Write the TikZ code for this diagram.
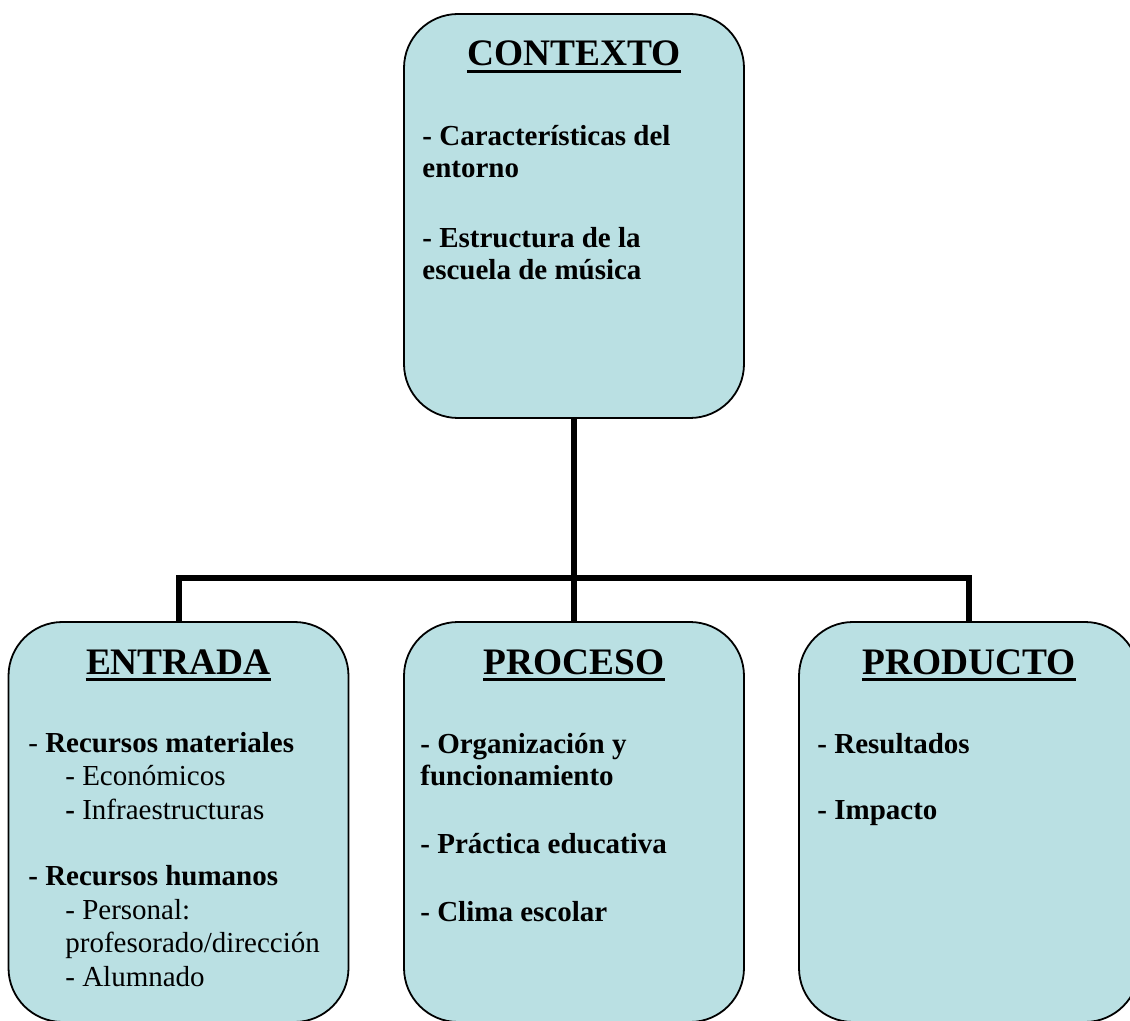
\documentclass[tikz,border=0pt]{standalone}
\usepackage{fontspec}
\setmainfont{Liberation Serif}
\definecolor{cajaazul}{RGB}{186,224,227}
\tikzset{
  caja/.style={draw, line width=0.9pt, fill=cajaazul, rounded corners=27pt,
    minimum width=170pt, inner sep=0pt},
  titulo/.style={font=\bfseries\fontsize{18.7}{22}\selectfont, inner sep=0pt, anchor=base},
  cuerpo/.style={font=\fontsize{14.5}{16.75}\selectfont, align=left, inner sep=0pt, anchor=north west},
  subraya/.style={line width=1.6pt},
  conector/.style={line width=3pt}
}
\newcommand{\sangria}{\hspace*{18.5pt}}
\newcommand{\hueco}{\\[16.5pt]}
\newcommand{\tope}{\rule{0pt}{11.5pt}}

\begin{document}
\begin{tikzpicture}[x=0.5pt,y=-0.5pt]
\useasboundingbox (0,0) rectangle (1130,1021);
\node[caja, minimum height=202pt] (ctx) at (574,216) {};
\node[caja, minimum height=200pt] (entrada) at (178.5,822) {};
\node[caja, minimum height=200pt] (proceso) at (574,822) {};
\node[caja, minimum height=200pt] (producto) at (969,822) {};
\coordinate (union) at (574,578);
\draw[conector] (ctx.south) -- (union);
\draw[conector] (entrada.north) |- (union) -| (producto.north);
\draw[conector] (union) -- (proceso.north);
\node[titulo] (tCtx) at (574,66) {CONTEXTO};
\node[titulo] (tEnt) at (178.5,674) {ENTRADA};
\node[titulo] (tPro) at (574,674) {PROCESO};
\node[titulo] (tPrd) at (969,674) {PRODUCTO};
\foreach \t in {tCtx,tEnt,tPro,tPrd}
  \draw[subraya] ([yshift=-2.9pt]\t.base west) -- ([yshift=-2.9pt]\t.base east);
\node[cuerpo, font=\bfseries\fontsize{14.5}{16}\selectfont] (bCtx) at (422,122)
  {\tope- Características del\\entorno\\[19pt]- Estructura de la\\escuela de música};
\node[cuerpo] (bEnt) at (28,729)
  {\tope- \textbf{Recursos materiales}\\
   \sangria- Económicos\\
   \sangria\textbf{-} Infraestructuras\hueco
   \textbf{- Recursos humanos}\\
   \sangria- Personal:\\
   \sangria profesorado/dirección\\
   \sangria- Alumnado};
\node[cuerpo, font=\bfseries\fontsize{14.5}{16}\selectfont] (bPro) at (420,730)
  {\tope- Organización y\\funcionamiento\\[18pt]- Práctica educativa\\[18pt]- Clima escolar};
\node[cuerpo, font=\bfseries\fontsize{14.5}{16}\selectfont] (bPrd) at (817,730)
  {\tope- Resultados\\[17pt]- Impacto};
\end{tikzpicture}
\end{document}
